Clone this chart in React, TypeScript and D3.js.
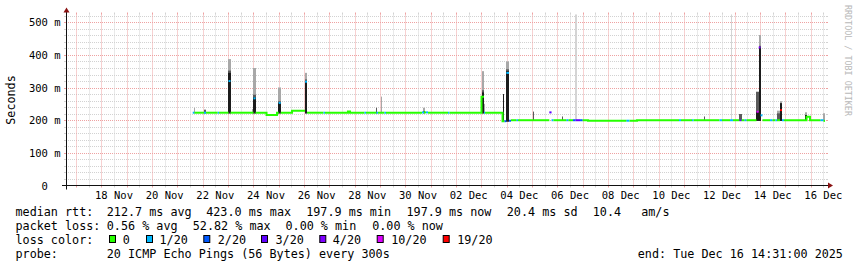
import React from "react";
import * as d3 from "d3";

// ---------- data ----------
const rangeStart = "2025-11-16 14:31";
const rangeEnd = "2025-12-16 14:31";

const yTickValues = [0, 100, 200, 300, 400, 500];
const yTickLabels = ["0", "100 m", "200 m", "300 m", "400 m", "500 m"];

const xTickDates = [
  "2025-11-18 12:00", "2025-11-20 12:00", "2025-11-22 12:00", "2025-11-24 12:00",
  "2025-11-26 12:00", "2025-11-28 12:00", "2025-11-30 12:00", "2025-12-02 12:00",
  "2025-12-04 12:00", "2025-12-06 12:00", "2025-12-08 12:00", "2025-12-10 12:00",
  "2025-12-12 12:00", "2025-12-14 12:00", "2025-12-16 12:00",
];
const xTickLabels = [
  "18 Nov", "20 Nov", "22 Nov", "24 Nov", "26 Nov", "28 Nov", "30 Nov", "02 Dec",
  "04 Dec", "06 Dec", "08 Dec", "10 Dec", "12 Dec", "14 Dec", "16 Dec",
];

const lossLabels = ["0", "1/20", "2/20", "3/20", "4/20", "10/20", "19/20"];
const lossColors = ["#26ff00", "#00b8ff", "#0059ff", "#5e00ff", "#7e00ff", "#dd00ff", "#ff0000"];

// median rtt (ms) as steps: each value holds until the next time
const medianTimes = [
  "2025-11-21 14:35", "2025-11-21 16:15", "2025-11-22 01:15", "2025-11-22 03:10",
  "2025-11-22 14:15", "2025-11-22 15:30", "2025-11-23 00:30", "2025-11-23 02:20",
  "2025-11-24 00:10", "2025-11-24 02:05", "2025-11-24 04:00", "2025-11-24 12:30",
  "2025-11-24 22:25", "2025-11-25 00:00", "2025-11-25 01:55", "2025-11-25 05:05",
  "2025-11-25 12:40", "2025-11-26 00:55", "2025-11-26 02:50", "2025-11-26 03:45",
  "2025-11-26 18:30", "2025-11-26 19:55", "2025-11-27 17:40", "2025-11-27 19:35",
  "2025-11-28 09:20", "2025-11-28 10:45", "2025-11-28 20:40", "2025-11-28 22:05",
  "2025-11-29 04:15", "2025-11-29 05:40", "2025-11-30 15:45", "2025-11-30 17:40",
  "2025-11-30 19:35", "2025-11-30 21:30", "2025-12-01 16:25", "2025-12-01 17:50",
  "2025-12-03 00:10", "2025-12-03 02:30", "2025-12-03 03:30", "2025-12-03 20:05",
  "2025-12-03 22:00", "2025-12-03 23:40", "2025-12-04 02:15", "2025-12-04 04:05",
  "2025-12-04 09:20", "2025-12-04 10:45", "2025-12-05 16:25", "2025-12-05 18:30",
  "2025-12-05 20:20", "2025-12-06 08:40", "2025-12-06 10:35", "2025-12-06 14:50",
  "2025-12-06 17:15", "2025-12-06 21:30", "2025-12-07 00:00", "2025-12-07 05:05",
  "2025-12-08 17:30", "2025-12-08 20:20", "2025-12-09 03:30", "2025-12-10 19:15",
  "2025-12-10 21:10", "2025-12-11 07:35", "2025-12-11 09:10", "2025-12-12 09:40",
  "2025-12-12 12:00", "2025-12-12 19:35", "2025-12-12 22:25", "2025-12-13 04:35",
  "2025-12-13 06:30", "2025-12-13 09:20", "2025-12-13 11:15", "2025-12-13 20:40",
  "2025-12-13 22:45", "2025-12-14 00:30", "2025-12-14 02:20", "2025-12-14 03:45",
  "2025-12-14 09:30", "2025-12-14 11:50", "2025-12-14 14:40", "2025-12-14 16:05",
  "2025-12-14 18:55", "2025-12-14 20:50", "2025-12-14 22:45", "2025-12-15 20:05",
  "2025-12-15 23:20", "2025-12-16 09:20", "2025-12-16 12:10",
];
const medianValues = [
  223, 223, 223, 223, 223, 223, 320, 223,
  267, 223, 223, 216, 223, 253, 223, 223,
  229, 318, 223, 223, 223, 223, 227, 223,
  223, 223, 223, 223, 223, 223, 224, 224,
  224, 223, 223, 223, 272, 223, 223, 197,
  197, 345, 198, 200, 200, 200, 224, 200,
  200, 200, 200, 200, 200, 200, 200, 198.5,
  198.5, 198.5, 200, 200, 200, 200, 200, 200,
  200, 200, 200, 200, 200, 200, 200, 226,
  423, 215, 200, 200, 200, 200, 200, 200,
  231, 200, 200, 211, 200, 200, 198,
];
const medianLoss = [
  1, 0, 1, 0, 1, 0, 1, 0,
  1, 0, 0, 0, 0, 1, 0, 0,
  0, 1, 0, 0, 1, 0, 0, 0,
  1, 0, 1, 0, 1, 0, 1, 0,
  1, 0, 1, 0, 0, 1, 0, 0,
  2, 1, 2, 0, 1, 0, 3, 1,
  0, 1, 0, 2, 3, 2, 0, 0,
  1, 0, 0, 1, 0, 1, 0, 1,
  0, 1, 0, 3, 0, 1, 0, 5,
  4, 1, 0, 0, 1, 0, 1, 0,
  6, 1, 0, 0, 0, 1, 0,
];
const medianLastTime = "2025-12-16 13:35";

// smoke (ping spread, ms)
const smokeStart = [
  "2025-11-21 15:20", "2025-11-22 01:15", "2025-11-23 00:15", "2025-11-23 22:30",
  "2025-11-24 00:00", "2025-11-24 23:40", "2025-11-26 00:55", "2025-11-28 20:15",
  "2025-11-29 01:00", "2025-11-30 16:30", "2025-12-03 00:10", "2025-12-03 02:30",
  "2025-12-03 20:05", "2025-12-03 23:40", "2025-12-05 00:30", "2025-12-06 04:00",
  "2025-12-06 16:25", "2025-12-11 19:10", "2025-12-12 20:30", "2025-12-13 04:05",
  "2025-12-13 20:40", "2025-12-13 22:45", "2025-12-14 15:50", "2025-12-14 18:55",
  "2025-12-15 18:40", "2025-12-16 12:00",
];
const smokeEnd = [
  "2025-11-21 16:15", "2025-11-22 03:10", "2025-11-23 02:35", "2025-11-24 00:00",
  "2025-11-24 02:35", "2025-11-25 01:55", "2025-11-26 02:50", "2025-11-28 21:15",
  "2025-11-29 02:00", "2025-11-30 18:30", "2025-12-03 02:30", "2025-12-03 03:30",
  "2025-12-03 21:30", "2025-12-04 02:15", "2025-12-05 01:30", "2025-12-06 05:00",
  "2025-12-06 18:20", "2025-12-11 20:10", "2025-12-12 21:40", "2025-12-13 06:40",
  "2025-12-13 22:45", "2025-12-14 00:40", "2025-12-14 18:55", "2025-12-14 21:05",
  "2025-12-15 20:05", "2025-12-16 13:35",
];
const smokeLow = [
  221, 221, 221, 221, 221, 221, 221, 221, 221, 221, 221, 221, 195,
  196, 198, 198, 198, 198, 198, 198, 198, 198, 198, 198, 198, 198,
];
const smokeCore = [
  221, 221, 345, 221, 270, 253, 318, 221, 221, 221, 285, 221, 280,
  350, 198, 198, 198, 198, 198, 198, 226, 423, 198, 252, 216, 198,
];
const smokeMid = [
  221, 232, 352, 221, 278, 258, 325, 238, 221, 228, 292, 221, 280,
  356, 226, 211, 198, 211, 198, 219, 287, 428, 221, 252, 216, 198,
];
const smokeHigh = [
  238, 232, 387, 234, 360, 300, 345, 238, 272, 238, 350, 250, 280,
  380, 226, 211, 198, 211, 198, 219, 287, 461, 229, 258, 224, 221,
];
const smokeMax = [
  238, 232, 387, 234, 360, 300, 345, 238, 272, 238, 350, 250, 280,
  380, 226, 211, 524, 211, 524, 219, 287, 461, 229, 258, 224, 221,
];

const legendRtt = ["median rtt:", "212.7 ms avg", "423.0 ms max", "197.9 ms min", "197.9 ms now", "20.4 ms sd", "10.4", "am/s"];
const legendLossStats = ["packet loss:", "0.56 % avg", "52.82 % max", "0.00 % min", "0.00 % now"];
const legendLossTitle = "loss color:";
const legendProbe = ["probe:", "20 ICMP Echo Pings (56 Bytes) every 300s"];
const legendEnd = "end: Tue Dec 16 14:31:00 2025";
const yAxisTitle = "Seconds";
const watermark = "RRDTOOL / TOBI OETIKER";

// ---------- layout ----------
const W = 857;
const H = 267;
const X0 = 66;
const X1 = 826;
const Y0 = 185.5;
const YTOP = 14.5;
const MONO = "'DejaVu Sans Mono', monospace";

const rttX = [15.5, 106.8, 206.2, 306.2, 406.5, 506.8, 592.8, 641.2];
const lossStatX = [15.5, 106.8, 192.8, 285.5, 372.2];
const boxX = [109, 146, 203.3, 261, 319.3, 376.7, 442.7];
const boxLabelX = [122.8, 159.5, 217.8, 275.5, 332.8, 391.2, 457.2];

const parse = d3.timeParse("%Y-%m-%d %H:%M");

export default function App() {
  const x = d3.scaleTime().domain([parse(rangeStart)!, parse(rangeEnd)!]).range([X0, X1]);
  const y = d3.scaleLinear().domain([0, 523.9]).range([Y0, YTOP]);

  // grid
  const hGrid = d3.range(20, 521, 20).map((v) => ({ v, major: v % 100 === 0, py: Math.round(y(v)) + 0.5 }));
  const vGrid = d3.timeHour
    .every(12)!
    .range(parse(rangeStart)!, parse(rangeEnd)!)
    .map((t) => ({ major: t.getHours() === 0, px: Math.round(x(t)) + 0.5 }));

  const minorCol = "#d2d2d2";
  const majorCol = "#eea2a2";

  // median runs grouped by loss colour
  const times = medianTimes.map((s) => parse(s)!);
  const lastT = parse(medianLastTime)!;
  const runs: { loss: number; pts: [Date, number][] }[] = [];
  for (let i = 0; i < times.length; i++) {
    const next = i + 1 < times.length ? times[i + 1] : lastT;
    const cur = runs[runs.length - 1];
    if (cur && cur.loss === medianLoss[i]) {
      cur.pts.pop();
      cur.pts.push([times[i], medianValues[i]]);
      cur.pts.push([next, medianValues[i]]);
    } else {
      runs.push({ loss: medianLoss[i], pts: [[times[i], medianValues[i]], [next, medianValues[i]]] });
    }
  }
  const line = d3
    .line<[Date, number]>()
    .x((d) => x(d[0]))
    .y((d) => y(d[1]))
    .curve(d3.curveStepAfter);

  const smoke = smokeStart.map((s, i) => {
    const xa = Math.round(x(parse(s)!));
    const xb = Math.max(xa + 1, Math.round(x(parse(smokeEnd[i])!)));
    return { xa, w: xb - xa, i };
  });
  const smokeRect = (xa: number, w: number, lo: number, hi: number, fill: string, key: string) =>
    hi > lo ? <rect key={key} x={xa} y={y(hi)} width={w} height={y(lo) - y(hi)} fill={fill} /> : null;

  return (
    <svg
      width={W}
      height={H}
      viewBox={`0 0 ${W} ${H}`}
      style={{ position: "absolute", left: 0, top: 0, background: "#ffffff" }}
      fontFamily={MONO}
    >
      <rect x={0} y={0} width={W} height={H} fill="#ffffff" />

      {/* horizontal grid */}
      {hGrid.map((g) => (
        <g key={"h" + g.v}>
          <line x1={X0} x2={X1} y1={g.py} y2={g.py} stroke={g.major ? majorCol : minorCol} strokeDasharray="1,1" />
          <line x1={X0 - 2} x2={X0} y1={g.py} y2={g.py} stroke={g.major ? majorCol : minorCol} />
          <line x1={X1} x2={X1 + 2} y1={g.py} y2={g.py} stroke={g.major ? majorCol : minorCol} />
        </g>
      ))}
      {/* vertical grid */}
      {vGrid.map((g, k) => (
        <g key={"v" + k}>
          <line x1={g.px} x2={g.px} y1={Y0} y2={YTOP} stroke={g.major ? majorCol : minorCol} strokeDasharray="1,1" />
          <line x1={g.px} x2={g.px} y1={Y0} y2={Y0 + 2} stroke={g.major ? majorCol : minorCol} />
          <line x1={g.px} x2={g.px} y1={YTOP} y2={YTOP - 2} stroke={g.major ? majorCol : minorCol} />
        </g>
      ))}

      {/* smoke */}
      {smoke.map(({ xa, w, i }) => (
        <g key={"s" + i}>
          {smokeRect(xa, w, smokeLow[i], smokeMax[i], "#d4d4d4", "m")}
          {smokeRect(xa, w, smokeLow[i], smokeHigh[i], "#a8a8a8", "h")}
          {smokeRect(xa, w, smokeLow[i], smokeMid[i], "#5a5a5a", "d")}
          {smokeRect(xa, w, smokeLow[i], smokeCore[i], "#1c1c1c", "c")}
        </g>
      ))}

      {/* median rtt coloured by loss */}
      {runs.map((r, k) => (
        <path key={"r" + k} d={line(r.pts) || ""} fill="none" stroke={lossColors[r.loss]} strokeWidth={2} strokeLinecap="butt" />
      ))}

      {/* axes */}
      <line x1={X0 - 4} x2={X1 + 4} y1={Y0} y2={Y0} stroke="#111" />
      <line x1={X0 + 0.5} x2={X0 + 0.5} y1={Y0 + 4} y2={YTOP - 4} stroke="#111" />
      <polygon points={`${X1 + 2},${Y0 - 3} ${X1 + 2},${Y0 + 3} ${X1 + 7},${Y0}`} fill="#8a1212" />
      <polygon points={`${X0 - 2.5},${YTOP - 2} ${X0 + 3.5},${YTOP - 2} ${X0 + 0.5},${YTOP - 7}`} fill="#8a1212" />

      {/* y tick labels */}
      {yTickValues.map((v, i) => (
        <text
          key={"yl" + v}
          x={v === 0 ? 60.5 - 2 * 6.32 : 60.5}
          y={Math.round(y(v)) + 4}
          fontSize={10.5}
          textAnchor="end"
          fill="#000"
        >
          {yTickLabels[i]}
        </text>
      ))}
      {/* x tick labels */}
      {xTickDates.map((d, i) => (
        <text key={"xl" + i} x={x(parse(d)!)} y={198.5} fontSize={10.5} textAnchor="middle" fill="#000">
          {xTickLabels[i]}
        </text>
      ))}

      {/* y title */}
      <text transform={`translate(15,${(Y0 + YTOP) / 2}) rotate(-90)`} fontSize={11.75} textAnchor="middle" fill="#000">
        {yAxisTitle}
      </text>
      {/* watermark */}
      <text transform="translate(845,5) rotate(90)" fontSize={8.4} fill="#b8b8b8">
        {watermark}
      </text>

      {/* legend */}
      <g fontSize={11.75} fill="#000">
        {legendRtt.map((s, i) => (
          <text key={"lr" + i} x={rttX[i]} y={215.7}>{s}</text>
        ))}
        {legendLossStats.map((s, i) => (
          <text key={"ll" + i} x={lossStatX[i]} y={229.7}>{s}</text>
        ))}
        <text x={15.5} y={243.7}>{legendLossTitle}</text>
        {lossLabels.map((s, i) => (
          <g key={"lc" + i}>
            <rect x={boxX[i] + 0.5} y={235.5} width={6} height={7} fill={lossColors[i]} stroke="#000" strokeWidth={1} />
            <text x={boxLabelX[i]} y={243.7}>{s}</text>
          </g>
        ))}
        <text x={15.5} y={257.7}>{legendProbe[0]}</text>
        <text x={106.8} y={257.7}>{legendProbe[1]}</text>
        <text x={637.8} y={257.7}>{legendEnd}</text>
      </g>
    </svg>
  );
}
